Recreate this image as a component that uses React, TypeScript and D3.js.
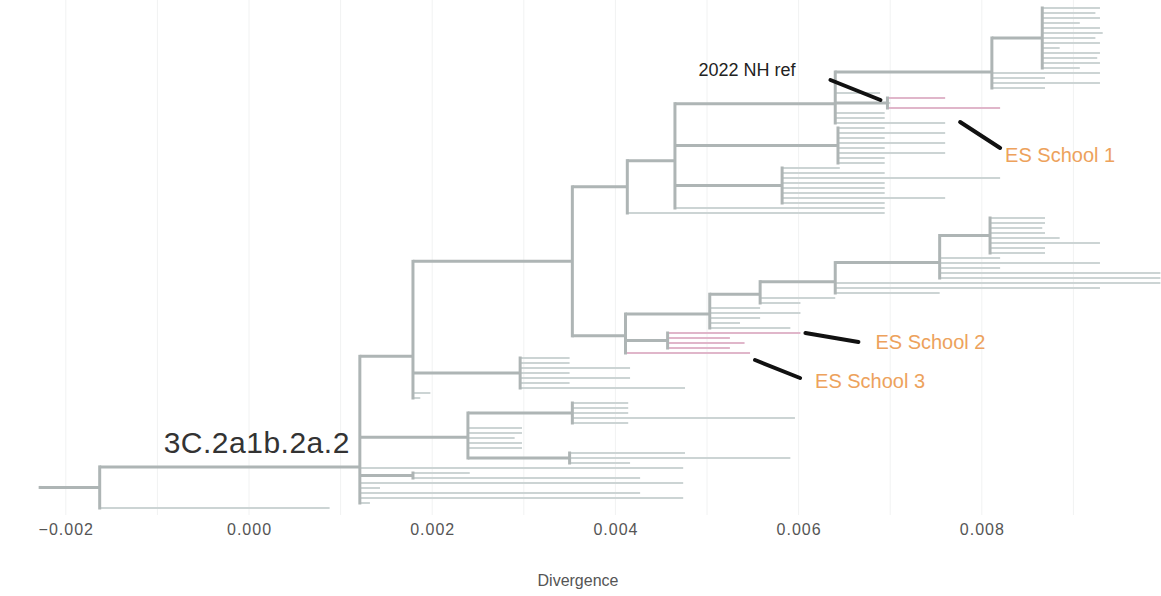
import * as d3 from "d3";
import React, { useRef, useEffect } from "react";

// [node id, parent id, divergence] - listed top to bottom (pre-order), tips are "tNN"
const rootBranches = [
  ["root", "", -0.00228],
  ["A", "root", -0.00163],
  ["B", "A", 0.00121],
  ["C", "B", 0.00179],
  ["F", "C", 0.00353],
];

const cladeNorth = [
  ["G", "F", 0.00413],
  ["I", "G", 0.00465],
  ["J", "I", 0.0064],
  ["L", "J", 0.00811],
  ["M", "L", 0.00866],
  ["t00", "M", 0.00929], ["t01", "M", 0.00924], ["t02", "M", 0.00929], ["t03", "M", 0.00907],
  ["t04", "M", 0.00929], ["t05", "M", 0.00932], ["t06", "M", 0.00924], ["t07", "M", 0.00929],
  ["t08", "M", 0.00885], ["t09", "M", 0.00929], ["t10", "M", 0.00926], ["t11", "M", 0.00929],
  ["t12", "M", 0.00907],
  ["t13", "L", 0.00929], ["t14", "L", 0.00869], ["t15", "L", 0.00929], ["t16", "L", 0.00869],
  ["t17", "J", 0.00689],
  ["P", "J", 0.00697],
  ["t18", "P", 0.0076], ["t19", "P", 0.007], ["t20", "P", 0.0082],
  ["t21", "J", 0.00694], ["t22", "J", 0.00694], ["t23", "J", 0.0076],
  ["N", "I", 0.00643],
  ["t24", "N", 0.00694], ["t25", "N", 0.0076], ["t26", "N", 0.00694], ["t27", "N", 0.0076],
  ["t28", "N", 0.00694], ["t29", "N", 0.0076], ["t30", "N", 0.00694], ["t31", "N", 0.00694],
  ["K", "I", 0.00582],
  ["t32", "K", 0.00645], ["t33", "K", 0.00694], ["t34", "K", 0.0082], ["t35", "K", 0.00694],
  ["t36", "K", 0.00694], ["t37", "K", 0.00694], ["t38", "K", 0.0076], ["t39", "K", 0.00694],
  ["t40", "I", 0.00694],
  ["t41", "G", 0.00694],
];

const cladeSchools = [
  ["H", "F", 0.00411],
  ["H1", "H", 0.00503],
  ["H2", "H1", 0.00558],
  ["H3", "H2", 0.0064],
  ["H4", "H3", 0.00754],
  ["H5", "H4", 0.00809],
  ["t42", "H5", 0.00869], ["t43", "H5", 0.00869], ["t44", "H5", 0.00866], ["t45", "H5", 0.00869],
  ["t46", "H5", 0.00885], ["t47", "H5", 0.00929], ["t48", "H5", 0.00869], ["t49", "H5", 0.00869],
  ["t50", "H4", 0.0082], ["t51", "H4", 0.00929], ["t52", "H4", 0.0082], ["t53", "H4", 0.00995],
  ["t54", "H4", 0.00995],
  ["t55", "H3", 0.00995], ["t56", "H3", 0.00929], ["t57", "H3", 0.00754],
  ["t58", "H2", 0.0064], ["t59", "H2", 0.00602],
  ["t60", "H1", 0.00558], ["t61", "H1", 0.00602], ["t62", "H1", 0.00558], ["t63", "H1", 0.00536],
  ["t64", "H1", 0.00591],
  ["Hp", "H", 0.00457],
  ["t65", "Hp", 0.00602], ["t66", "Hp", 0.00525], ["t67", "Hp", 0.00541], ["t68", "Hp", 0.00525],
  ["t69", "H", 0.00547],
];

const cladeMid = [
  ["C2", "C", 0.00296],
  ["t70", "C2", 0.0035], ["t71", "C2", 0.0035], ["t72", "C2", 0.00416], ["t73", "C2", 0.0035],
  ["t74", "C2", 0.00416], ["t75", "C2", 0.0035], ["t76", "C2", 0.00476],
  ["t77", "C", 0.00198], ["t78", "C", 0.00187],
];

const cladeSouth = [
  ["D", "B", 0.00239],
  ["D1", "D", 0.00353],
  ["t79", "D1", 0.00414], ["t80", "D1", 0.00414], ["t81", "D1", 0.00414], ["t82", "D1", 0.00596],
  ["t83", "D1", 0.00414],
  ["t84", "D", 0.00298], ["t85", "D", 0.00298], ["t86", "D", 0.0029], ["t87", "D", 0.00298],
  ["t88", "D", 0.00298],
  ["D2", "D", 0.0035],
  ["t89", "D2", 0.00476], ["t90", "D2", 0.00591], ["t91", "D2", 0.00416],
  ["t92", "B", 0.00474],
  ["E", "B", 0.00179],
  ["t93", "E", 0.00241], ["t94", "E", 0.00427],
  ["t95", "B", 0.00474], ["t96", "B", 0.00143], ["t97", "B", 0.00427], ["t98", "B", 0.00474],
  ["t99", "B", 0.00132],
  ["t100", "A", 0.00088],
];

const schoolTips = ["t18", "t20", "t65", "t66", "t67", "t68", "t69"];

const callouts = [
  { text: "2022 NH ref", tip: "t18", color: "#222" },
  { text: "ES School 1", tip: "t20", color: "#eda25c" },
  { text: "ES School 2", tip: "t65", color: "#eda25c" },
  { text: "ES School 3", tip: "t69", color: "#eda25c" },
];

const cladeLabel = { text: "3C.2a1b.2a.2", node: "B" };

const divergenceTicks = [-0.002, 0, 0.002, 0.004, 0.006, 0.008];
const gridTicks = [-0.002, -0.001, 0, 0.001, 0.002, 0.003, 0.004, 0.005, 0.006, 0.007, 0.008, 0.009];

// where the arrow / label sit relative to the tip branch (pixels)
const calloutLayout: any = {
  "2022 NH ref": { at: "start", end: [-7, 2], from: [-57, -18], label: [-92, -22], anchor: "end", size: 18 },
  "ES School 1": { at: "end", end: [-40, 14], from: [0, 40], label: [5, 54], anchor: "start", size: 20 },
  "ES School 2": { at: "end", end: [5, 0], from: [58, 9], label: [75, 16], anchor: "start", size: 20 },
  "ES School 3": { at: "end", end: [5, 7], from: [50, 25], label: [65, 35], anchor: "start", size: 20 },
};

function App() {
  const svgRef = useRef<SVGSVGElement>(null);
  const width = 1161;
  const height = 596;

  useEffect(() => {
    const svg = d3.select(svgRef.current);
    svg.selectAll("*").remove();

    const rows: any[] = [...rootBranches, ...cladeNorth, ...cladeSchools, ...cladeMid, ...cladeSouth];
    const root: any = d3.stratify<any>()
      .id((d: any) => d[0])
      .parentId((d: any) => (d[1] ? d[1] : null))(rows);

    const leaves = root.leaves();
    const xScale = d3.scaleLinear().domain([-0.0025, 0.01]).range([20, 1165]);
    const yScale = d3.scaleLinear().domain([0, leaves.length - 1]).range([8, 508]);

    leaves.forEach((l: any, i: number) => { l.yv = yScale(i); });
    root.eachAfter((n: any) => {
      if (n.children) n.yv = d3.mean(n.children, (c: any) => c.yv);
    });
    const xOf = (n: any) => xScale(n.data[2]);

    const font = "'Liberation Sans', Arial, sans-serif";

    // grid
    svg.append("g")
      .selectAll("line")
      .data(gridTicks)
      .enter()
      .append("line")
      .attr("x1", d => xScale(d))
      .attr("x2", d => xScale(d))
      .attr("y1", 0)
      .attr("y2", 515)
      .attr("stroke", "#f1f2f2")
      .attr("stroke-width", 1);

    const nodes = root.descendants();
    const tipColor = (n: any) => schoolTips.includes(n.id) ? "#e0b6ca" : "#ccd4d4";

    // tip branches
    svg.append("g")
      .selectAll("line")
      .data(nodes.filter((n: any) => !n.children && n.parent))
      .enter()
      .append("line")
      .attr("x1", (n: any) => xOf(n.parent))
      .attr("x2", (n: any) => xOf(n))
      .attr("y1", (n: any) => n.yv)
      .attr("y2", (n: any) => n.yv)
      .attr("stroke", tipColor)
      .attr("stroke-width", 2);

    // internal branches: horizontal stems
    svg.append("g")
      .selectAll("line")
      .data(nodes.filter((n: any) => n.children))
      .enter()
      .append("line")
      .attr("x1", (n: any) => xOf(n.parent ? n.parent : n))
      .attr("x2", (n: any) => xOf(n))
      .attr("y1", (n: any) => n.yv)
      .attr("y2", (n: any) => n.yv)
      .attr("stroke", "#aeb5b5")
      .attr("stroke-width", 3);

    // internal nodes: vertical connectors
    svg.append("g")
      .selectAll("line")
      .data(nodes.filter((n: any) => n.children))
      .enter()
      .append("line")
      .attr("x1", (n: any) => xOf(n))
      .attr("x2", (n: any) => xOf(n))
      .attr("y1", (n: any) => d3.min(n.children, (c: any) => c.yv) - 1.5)
      .attr("y2", (n: any) => d3.max(n.children, (c: any) => c.yv) + 1.5)
      .attr("stroke", "#aeb5b5")
      .attr("stroke-width", 3);

    // clade label
    const cladeNode = nodes.find((n: any) => n.id === cladeLabel.node);
    svg.append("text")
      .text(cladeLabel.text)
      .attr("x", xOf(cladeNode) - 10)
      .attr("y", cladeNode.yv - 14)
      .attr("text-anchor", "end")
      .style("font-family", font)
      .style("font-size", "30px")
      .style("letter-spacing", "0.5px")
      .style("fill", "#333");

    // callouts
    callouts.forEach(c => {
      const tip = nodes.find((n: any) => n.id === c.tip);
      const lay = calloutLayout[c.text];
      const tx = lay.at === "start" ? xOf(tip.parent) : xOf(tip);
      const ty = tip.yv;
      svg.append("line")
        .attr("x1", tx + lay.from[0])
        .attr("y1", ty + lay.from[1])
        .attr("x2", tx + lay.end[0])
        .attr("y2", ty + lay.end[1])
        .attr("stroke", "#111")
        .attr("stroke-width", 4)
        .attr("stroke-linecap", "round");
      svg.append("text")
        .text(c.text)
        .attr("x", tx + lay.label[0])
        .attr("y", ty + lay.label[1])
        .attr("text-anchor", lay.anchor)
        .style("font-family", font)
        .style("font-size", lay.size + "px")
        .style("fill", c.color);
    });

    // axis
    const axis = d3.axisBottom(xScale)
      .tickValues(divergenceTicks)
      .tickFormat(d3.format(".3f") as any)
      .tickSize(0)
      .tickPadding(0);
    const ax = svg.append("g")
      .attr("transform", "translate(0, 524)")
      .call(axis);
    ax.select(".domain").remove();
    ax.selectAll("text")
      .style("font-family", font)
      .style("font-size", "16px")
      .style("letter-spacing", "1px")
      .style("fill", "#555");

    svg.append("text")
      .text("Divergence")
      .attr("x", 578)
      .attr("y", 586)
      .attr("text-anchor", "middle")
      .style("font-family", font)
      .style("font-size", "16px")
      .style("fill", "#555");
  }, []);

  return (
    <svg
      ref={svgRef}
      width={width}
      height={height}
      style={{ position: "absolute", left: 0, top: 0, background: "#fff" }}
    />
  );
}

export default App;
